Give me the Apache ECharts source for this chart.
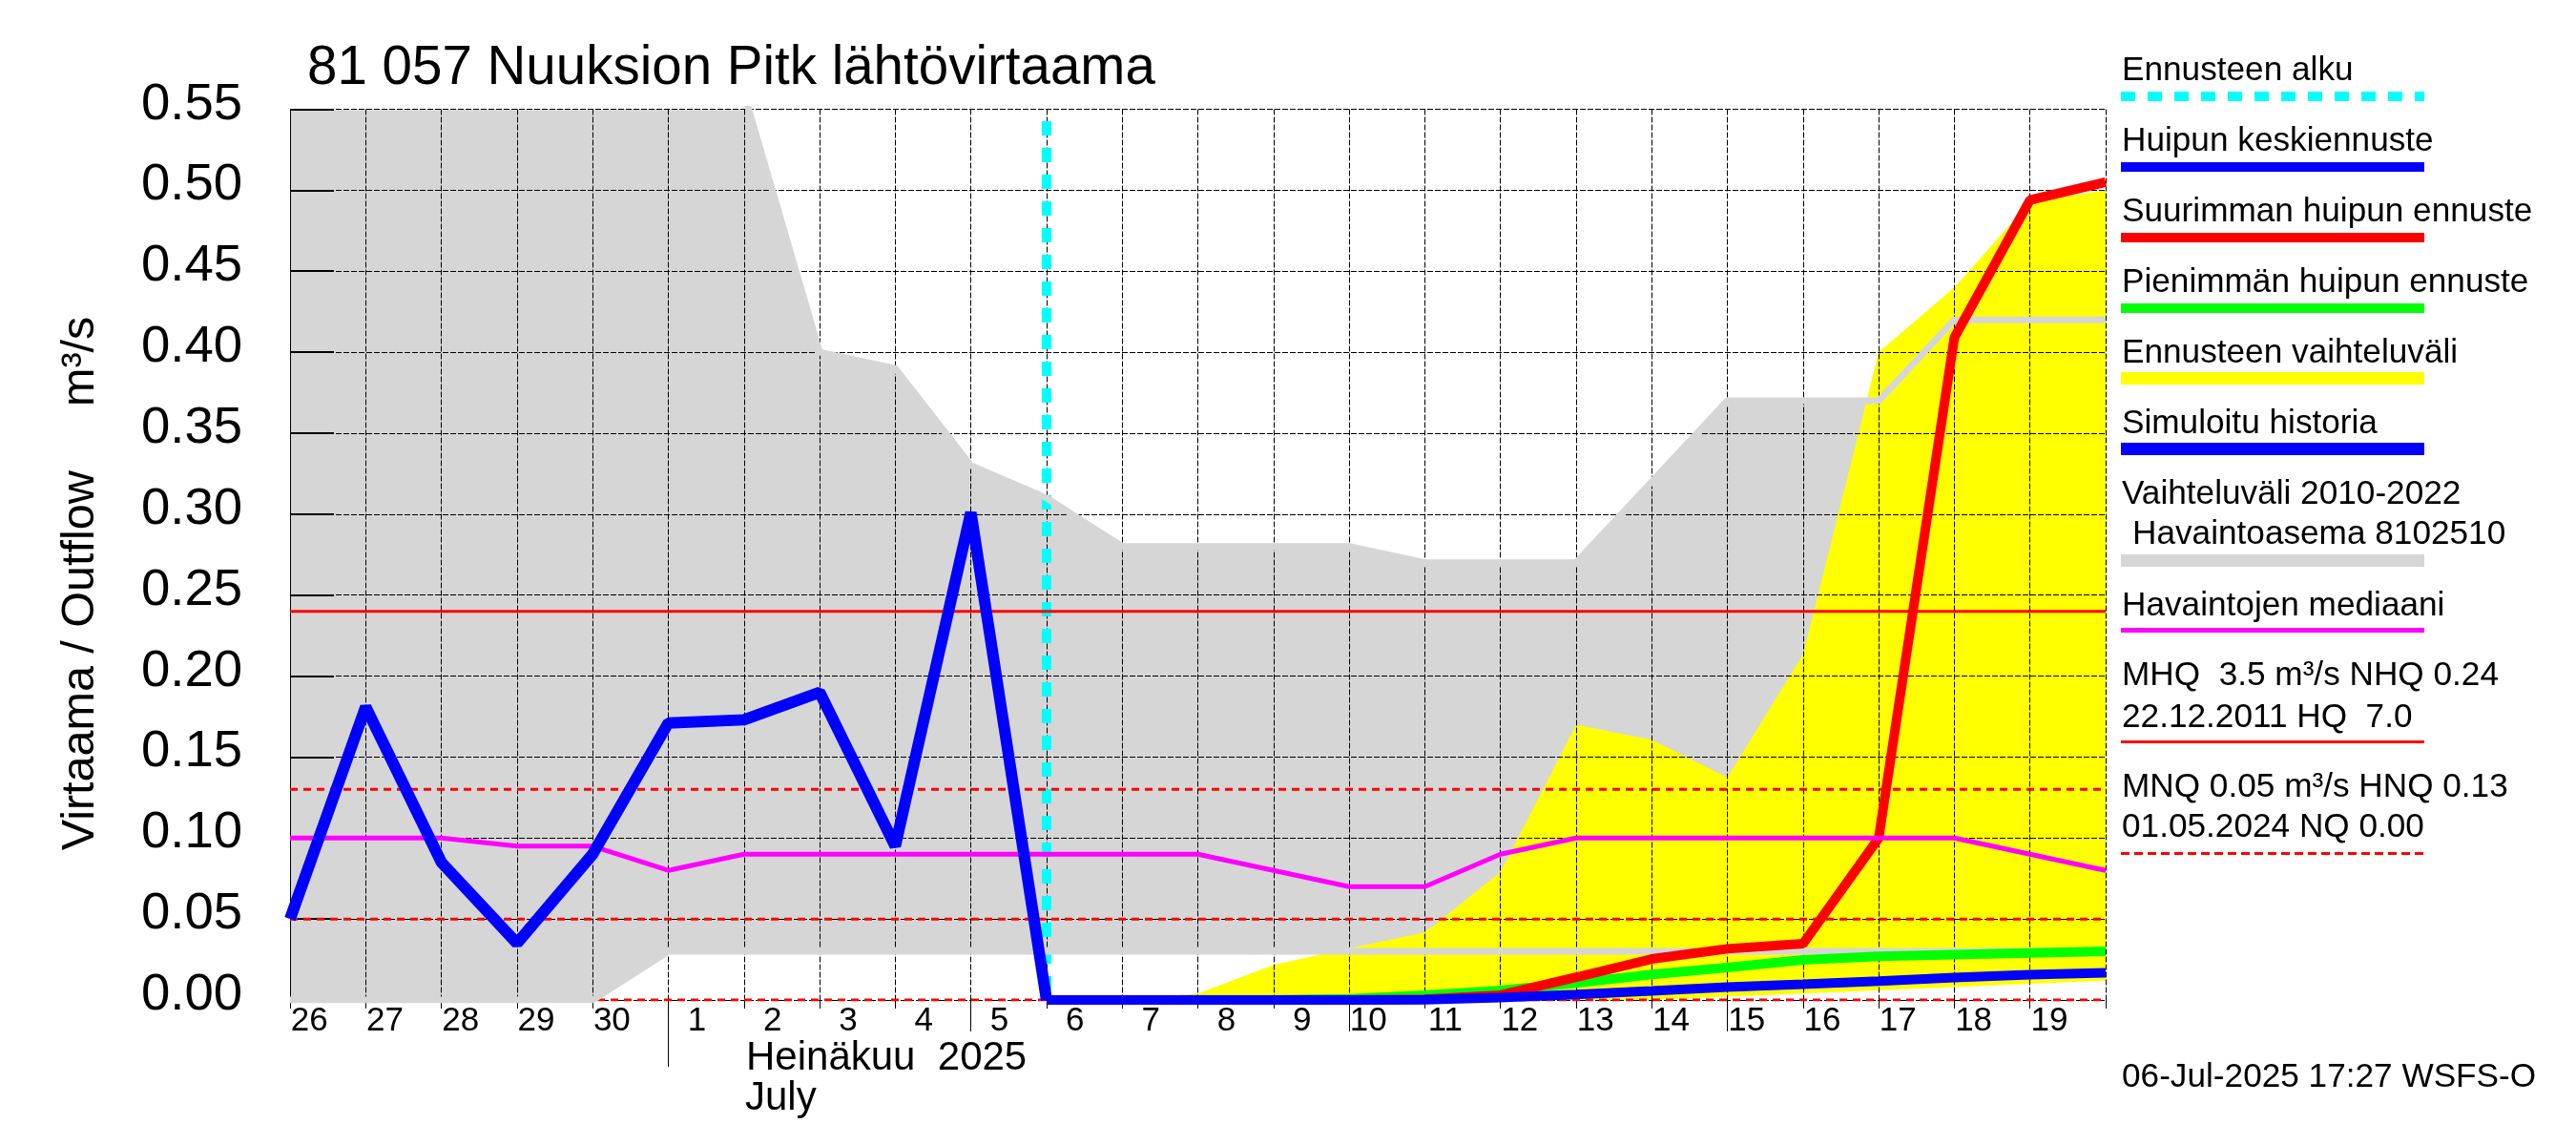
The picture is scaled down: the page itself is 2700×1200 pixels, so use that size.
<!DOCTYPE html>
<html>
<head>
<meta charset="utf-8">
<title>81 057 Nuuksion Pitk lähtövirtaama</title>
<style>
	html, body { margin: 0; padding: 0; background: #fff; }
	#main { width: 2700px; height: 1200px; }
</style>
<script src="https://cdn.jsdelivr.net/npm/echarts@6/dist/echarts.min.js"></script>
</head>
<body>
<div id="main"></div>
<script>
var FONT = '"Liberation Sans", Arial, sans-serif';

// one entry per day, 26 June = index 0, right edge of the plot = index 24
var dayLabels = ['26', '27', '28', '29', '30', '1', '2', '3', '4', '5', '6', '7', '8', '9', '10', '11', '12', '13', '14', '15', '16', '17', '18', '19'];
var yTicks = [0, 0.05, 0.1, 0.15, 0.2, 0.25, 0.3, 0.35, 0.4, 0.45, 0.5, 0.55];
var fiveDayTicks = [9, 14, 19];
var monthTicks = [5];
var forecastStart = 10;

var historyFlow = [0.05, 0.181, 0.085, 0.035, 0.09, 0.171, 0.173, 0.19, 0.095, 0.301, 0];
var meanForecast = [0, 0, 0, 0, 0, 0.0002, 0.0015, 0.0034, 0.0056, 0.008, 0.0097, 0.0117, 0.0138, 0.0156, 0.0168];
var maxForecast = [0, 0, 0, 0, 0, 0.0005, 0.003, 0.014, 0.0253, 0.0316, 0.0347, 0.10, 0.409, 0.494, 0.505];
var minForecast = [0, 0, 0, 0, 0.0008, 0.003, 0.0059, 0.0105, 0.0158, 0.02, 0.0247, 0.027, 0.028, 0.029, 0.03];
var forecastUpper = [0, 0.004, 0.0217, 0.032, 0.0417, 0.079, 0.17, 0.1605, 0.1375, 0.2135, 0.40, 0.44, 0.4925, 0.50];
var forecastLower = [0, 0, 0, 0, 0, 0, 0, 0, 0.002, 0.004, 0.006, 0.008, 0.01, 0.012];
var rangeUpper = [0.56, 0.56, 0.56, 0.56, 0.56, 0.56, 0.56, 0.40, 0.39, 0.33, 0.31, 0.28, 0.28, 0.28, 0.28, 0.27, 0.27, 0.27, 0.32, 0.37, 0.37, 0.37, 0.42, 0.42, 0.42];
var rangeLower = [0, 0, 0, 0, 0, 0.03, 0.03, 0.03, 0.03, 0.03, 0.03, 0.03, 0.03, 0.03, 0.03, 0.03, 0.03, 0.03, 0.03, 0.03, 0.03, 0.03, 0.03, 0.03, 0.03];
var median = [0.10, 0.10, 0.10, 0.095, 0.095, 0.08, 0.09, 0.09, 0.09, 0.09, 0.09, 0.09, 0.09, 0.08, 0.07, 0.07, 0.09, 0.10, 0.10, 0.10, 0.10, 0.10, 0.10, 0.09, 0.08];
var forecastLineTop = 0.5427;
var solidLevels = [0.24];
var dashedLevels = [0.13, 0.05, 0];

var legendRows = [
	{ text: 'Ennusteen alku', base: 83, line: 101, width: 10, color: '#00ffff', dash: [15, 13] },
	{ text: 'Huipun keskiennuste', base: 157, line: 175, width: 10, color: '#0000ff' },
	{ text: 'Suurimman huipun ennuste', base: 231, line: 249, width: 10, color: '#ff0000' },
	{ text: 'Pienimmän huipun ennuste', base: 305, line: 323, width: 10, color: '#00ff00' },
	{ text: 'Ennusteen vaihteluväli', base: 379, line: 396.5, width: 13, color: '#ffff00' },
	{ text: 'Simuloitu historia', base: 453, line: 470.5, width: 13, color: '#0000ff' },
	{ text: 'Vaihteluväli 2010-2022', base: 527 },
	{ text: ' Havaintoasema 8102510', base: 569, line: 587.5, width: 13, color: '#d6d6d6' },
	{ text: 'Havaintojen mediaani', base: 644, line: 660.5, width: 5, color: '#ff00ff' },
	{ text: 'MHQ  3.5 m³/s NHQ 0.24', base: 717.5 },
	{ text: '22.12.2011 HQ  7.0', base: 761, line: 777.5, width: 3, color: '#ff0000' },
	{ text: 'MNQ 0.05 m³/s HNQ 0.13', base: 834.5 },
	{ text: '01.05.2024 NQ 0.00', base: 876.5, line: 894.5, width: 3, color: '#ff0000', dash: [9, 5] },
	{ text: '06-Jul-2025 17:27 WSFS-O', base: 1138.5 }
];

function pairs(values, firstDay) {
	return values.map(function (v, i) {
		return [firstDay + i, v];
	});
}

// filled area between two edges, one polygon through the axis scales
function bandFill(name, upper, lower, firstDay, color) {
	var rows = upper.map(function (v, i) {
		return [firstDay + i, lower[i], v];
	});
	return {
		name: name, type: 'custom', data: rows, z: 1, silent: true, clip: true,
		encode: { x: 0, y: [1, 2] },
		renderItem: function (params, api) {
			if (params.dataIndex !== 0) {
				return null;
			}
			var top = rows.map(function (r) { return api.coord([r[0], r[2]]); });
			var bottom = rows.map(function (r) { return api.coord([r[0], r[1]]); }).reverse();
			return {
				type: 'polygon',
				shape: { points: top.concat(bottom) },
				style: { fill: color, stroke: null }
			};
		}
	};
}

function flowLine(name, values, firstDay, color, width, z) {
	return {
		name: name, type: 'line', data: pairs(values, firstDay), z: z,
		showSymbol: false, silent: true,
		lineStyle: { color: color, width: width, join: 'bevel', cap: 'butt' }
	};
}

function levelLine(level, dash) {
	return {
		type: 'line', data: [[0, level], [24, level]], z: 4,
		showSymbol: false, silent: true,
		lineStyle: { color: '#ff0000', width: 3, type: dash, cap: 'butt' }
	};
}

// text placed by its baseline, as the labels of the original are
function labelAt(text, x, base, size) {
	return {
		type: 'text', x: x, y: base - 0.3465 * size + 3, silent: true,
		style: {
			text: text, fill: '#000', font: size + 'px ' + FONT,
			align: 'left', verticalAlign: 'middle'
		}
	};
}

var graphics = [
	{
		type: 'text', x: 85, y: 611.5, rotation: Math.PI / 2, silent: true,
		style: {
			text: 'Virtaama / Outflow     m³/s', fill: '#000', font: '48.5px ' + FONT,
			align: 'center', verticalAlign: 'middle'
		}
	},
	labelAt('Heinäkuu  2025', 782, 1120.5, 42),
	labelAt('July', 781, 1163, 42)
];

legendRows.forEach(function (row) {
	var isShifted = row.text.charAt(0) === ' ';
	graphics.push(labelAt(row.text.trim(), isShifted ? 2235 : 2224, row.base, 35.2));
	if (row.line) {
		graphics.push({
			type: 'line', silent: true,
			shape: { x1: 2223, y1: row.line, x2: 2541, y2: row.line },
			style: { stroke: row.color, lineWidth: row.width, lineDash: row.dash || null }
		});
	}
});

var extraTickAxis = function (values, length) {
	return {
		type: 'value', position: 'bottom', min: 0, max: 24, z: 2,
		axisLine: { show: false },
		axisLabel: { show: false },
		splitLine: { show: false },
		axisTick: { show: true, customValues: values, length: length, lineStyle: { color: '#000', width: 1 } }
	};
};

var series = [
	bandFill('rangeFill', rangeUpper, rangeLower, 0, '#d6d6d6'),
	bandFill('forecastFill', forecastUpper, forecastLower, 11, '#ffff00'),
	flowLine('Ennusteen alku', [], 0, '#00ffff', 10, 3),
	flowLine('Vaihteluväli yläraja', rangeUpper.slice(6), 6, '#d6d6d6', 7, 5),
	flowLine('Vaihteluväli alaraja', rangeLower, 0, '#d6d6d6', 7, 5),
	flowLine('Havaintojen mediaani', median, 0, '#ff00ff', 5, 8),
	flowLine('Pienimmän huipun ennuste', minForecast, 10, '#00ff00', 10, 6),
	flowLine('Suurimman huipun ennuste', maxForecast, 10, '#ff0000', 10, 7),
	flowLine('Huipun keskiennuste', meanForecast, 10, '#0000ff', 10, 9),
	flowLine('Simuloitu historia', historyFlow, 0, '#0000ff', 12, 9)
];
series[2].data = [[forecastStart, forecastLineTop], [forecastStart, 0]];
series[2].lineStyle.type = [15, 13];
solidLevels.forEach(function (level) {
	series.push(levelLine(level, 'solid'));
});
dashedLevels.forEach(function (level) {
	series.push(levelLine(level, [8, 6]));
});

var chart = echarts.init(document.getElementById('main'), null, { renderer: 'canvas' });
chart.setOption({
	animation: false,
	backgroundColor: '#fff',
	title: {
		text: '81 057 Nuuksion Pitk lähtövirtaama',
		left: 322,
		top: 44,
		padding: 0,
		textStyle: { color: '#000', fontFamily: FONT, fontWeight: 'normal', fontSize: 56.5 }
	},
	grid: { left: 304, top: 114.5, width: 1903, height: 933.5 },
	xAxis: [
		{
			type: 'value', position: 'bottom', min: 0, max: 24, interval: 1, z: 2,
			axisLine: { show: false },
			axisLabel: { show: false },
			axisTick: { show: true, length: 9, lineStyle: { color: '#000', width: 1 } },
			splitLine: { show: true, lineStyle: { color: '#000', width: 1, type: [6, 2] } }
		},
		{
			type: 'category', position: 'bottom', data: dayLabels, boundaryGap: true, z: 2,
			axisLine: { show: false },
			axisTick: { show: false },
			splitLine: { show: false },
			axisLabel: { interval: 0, align: 'right', margin: 5, color: '#000', fontFamily: FONT, fontSize: 35 }
		},
		extraTickAxis(fiveDayTicks, 33),
		extraTickAxis(monthTicks, 70)
	],
	yAxis: {
		type: 'value', min: 0, max: 0.55, interval: 0.05, z: 2,
		axisLine: { show: true, lineStyle: { color: '#000', width: 1 } },
		axisTick: { show: true, inside: true, length: 46, lineStyle: { color: '#000', width: 2 } },
		splitLine: { show: true, lineStyle: { color: '#000', width: 1, type: [6, 2] } },
		axisLabel: {
			margin: 50, color: '#000', fontFamily: FONT, fontSize: 54.5,
			verticalAlign: 'bottom', lineHeight: 10,
			customValues: yTicks,
			formatter: function (v) { return v.toFixed(2); }
		}
	},
	series: series,
	graphic: { elements: graphics }
});
</script>
</body>
</html>
